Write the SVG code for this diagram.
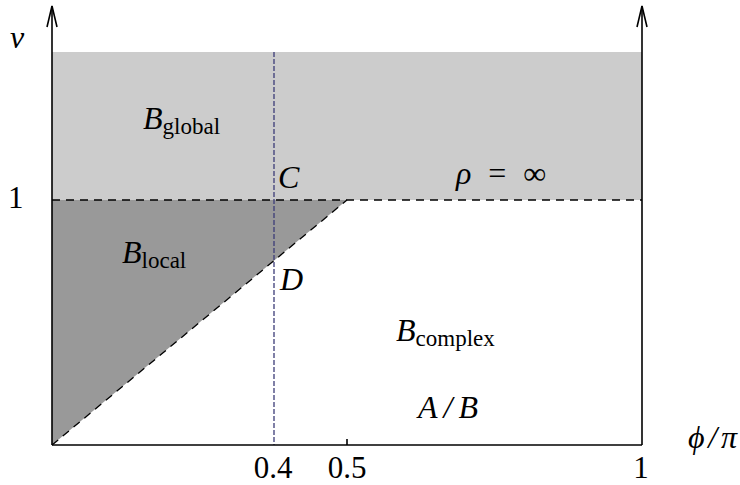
<svg xmlns="http://www.w3.org/2000/svg" width="740" height="485" viewBox="0 0 740 485">
<style>
.ax{stroke:#000;stroke-width:1.6;fill:none}
.dash{stroke:#000;stroke-width:1.3;stroke-dasharray:8 6;fill:none}
.blue{stroke:#3c3c78;stroke-width:1.3;stroke-dasharray:5 2;fill:none}
.m{font-family:"Liberation Serif","DejaVu Serif",serif;font-style:italic;font-size:32px;fill:#000}
.r{font-family:"Liberation Serif","DejaVu Serif",serif;font-size:31px;fill:#000}
.s{font-family:"Liberation Serif","DejaVu Serif",serif;font-size:23px;fill:#000}
</style>
<rect width="740" height="485" fill="#fff"/>
<g id="regions">
<rect id="global" x="52" y="52" width="590" height="148" fill="#cccccc"/>
<polygon id="local" points="52,445 52,200 347,200" fill="#999999"/>
</g>
<g id="connectors">
<line class="dash" x1="52" y1="200" x2="642" y2="200"/>
<line class="dash" x1="52" y1="445" x2="347" y2="200"/>
<line class="blue" x1="274" y1="52" x2="274" y2="445"/>
<line class="ax" x1="52" y1="445" x2="642" y2="445"/>
<line class="ax" x1="52" y1="445" x2="52" y2="6"/>
<polyline class="ax" points="47,27 52,6 57,27"/>
<line class="ax" x1="642" y1="445" x2="642" y2="6"/>
<polyline class="ax" points="637,27 642,6 647,27"/>
<line class="ax" x1="347" y1="439" x2="347" y2="445"/>
</g>
<g id="labels">
<text class="m" x="10" y="48">v</text>
<text class="r" x="8" y="208">1</text>
<text class="r" x="273" y="478" text-anchor="middle">0.4</text>
<text class="r" x="347" y="478" text-anchor="middle">0.5</text>
<text class="r" x="641" y="478" text-anchor="middle">1</text>
<text class="m" x="688" y="448" textLength="49">ϕ/π</text>
<text class="m" x="143" y="129">B<tspan class="s" font-style="normal" dy="5">global</tspan></text>
<text class="m" x="122" y="263">B<tspan class="s" font-style="normal" dy="5">local</tspan></text>
<text class="m" x="396" y="341">B<tspan class="s" font-style="normal" dy="5">complex</tspan></text>
<text class="m" x="418" y="418" textLength="60">A/B</text>
<text class="m" x="278" y="188">C</text>
<text class="m" x="280" y="290">D</text>
<text class="m" x="456" y="184" textLength="90">ρ <tspan font-style="normal">= ∞</tspan></text>
</g>
</svg>
